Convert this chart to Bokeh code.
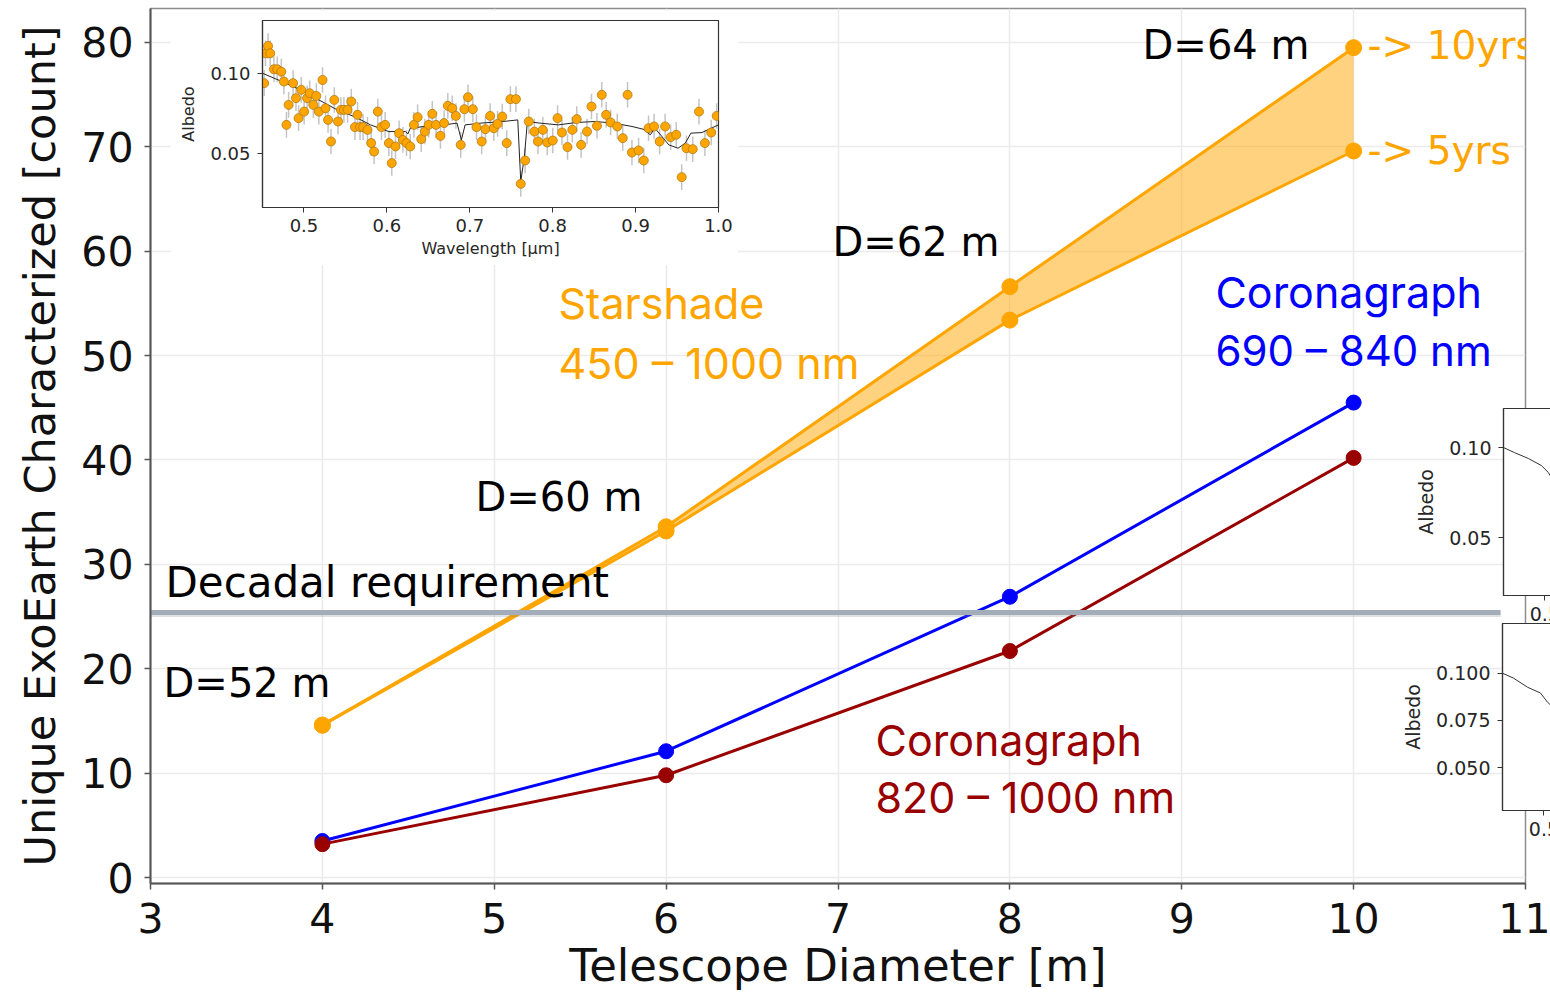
from bokeh.plotting import figure
from bokeh.models import ColumnDataSource, Label, FixedTicker, PrintfTickFormatter, Range1d, GlobalInlineStyleSheet
from bokeh.embed import file_html
from bokeh.resources import INLINE

# ---------------- main chart data ----------------
diameter = [4, 6, 8, 10]
starshade_10yr = [14.6, 33.6, 56.6, 79.5]
starshade_5yr = [14.6, 33.2, 53.4, 69.6]
coronagraph_690_840 = [3.5, 12.1, 26.9, 45.5]
coronagraph_820_1000 = [3.2, 9.8, 21.7, 40.2]
decadal_requirement = 25.4
x_ticks = [3, 4, 5, 6, 7, 8, 9, 10, 11]
y_ticks = [0, 10, 20, 30, 40, 50, 60, 70, 80]

# ---------------- inset spectrum (top-left) ----------------
inset_wl = [0.452, 0.4536, 0.4567, 0.4593, 0.4638, 0.4678, 0.4727, 0.4758, 0.4789, 0.4815,
            0.4869, 0.4904, 0.4935, 0.4967, 0.5002, 0.5038, 0.5069, 0.5113, 0.5149, 0.518,
            0.5224, 0.526, 0.5291, 0.5326, 0.5366, 0.5411, 0.5446, 0.5482, 0.5526, 0.5571,
            0.5615, 0.5646, 0.5677, 0.5713, 0.5766, 0.5811, 0.5846, 0.5891, 0.5935, 0.5979,
            0.6024, 0.6059, 0.6104, 0.6148, 0.6193, 0.6237, 0.6282, 0.6326, 0.6371, 0.6415,
            0.6459, 0.6504, 0.6548, 0.6593, 0.6646, 0.669, 0.6735, 0.6788, 0.6833, 0.6891,
            0.6935, 0.6979, 0.7037, 0.7081, 0.7144, 0.7188, 0.7246, 0.729, 0.7335, 0.7392,
            0.7446, 0.749, 0.7557, 0.7615, 0.7668, 0.7712, 0.7779, 0.7823, 0.7881, 0.7934,
            0.8001, 0.8059, 0.8112, 0.8179, 0.8237, 0.829, 0.8343, 0.8414, 0.8468, 0.8534,
            0.8592, 0.8645, 0.8699, 0.8779, 0.8845, 0.8903, 0.8956, 0.9036, 0.9099, 0.9156,
            0.9223, 0.929, 0.9356, 0.9423, 0.949, 0.9556, 0.9614, 0.9689, 0.9765, 0.9836,
            0.9912, 0.9978]
inset_albedo = [0.0938, 0.1125, 0.1171, 0.1125, 0.1025, 0.1025, 0.101, 0.0948, 0.0677, 0.0802,
                0.0938, 0.0844, 0.0719, 0.0896, 0.076, 0.0844, 0.0875, 0.0802, 0.0858, 0.076,
                0.0958, 0.0781, 0.0708, 0.0573, 0.0833, 0.0698, 0.0771, 0.0771, 0.0771, 0.0823,
                0.0663, 0.074, 0.0663, 0.0663, 0.0646, 0.0563, 0.051, 0.076, 0.0663, 0.0677,
                0.0563, 0.0438, 0.0542, 0.0625, 0.0583, 0.0563, 0.0542, 0.0677, 0.0725, 0.0588,
                0.0635, 0.0677, 0.0746, 0.0677, 0.0608, 0.0688, 0.0796, 0.0781, 0.0733, 0.0552,
                0.0775, 0.085, 0.0775, 0.0663, 0.0573, 0.065, 0.0733, 0.0656, 0.0683, 0.0729,
                0.0563, 0.0838, 0.0838, 0.0308, 0.0454, 0.0698, 0.0635, 0.0573, 0.0646, 0.0567,
                0.0579, 0.0719, 0.0629, 0.0538, 0.0646, 0.0713, 0.0552, 0.0635, 0.0792, 0.0671,
                0.0865, 0.074, 0.0692, 0.0667, 0.0594, 0.0865, 0.0504, 0.0517, 0.0454, 0.0656,
                0.0667, 0.0573, 0.0667, 0.06, 0.0615, 0.035, 0.0531, 0.0525, 0.076, 0.0563,
                0.0629, 0.0733]
inset_err = 0.008
model_wl = [0.45, 0.4735, 0.4958, 0.518, 0.5402, 0.5624, 0.5802, 0.6024, 0.6224, 0.6255,
            0.6282, 0.6513, 0.669, 0.6846, 0.6899, 0.6944, 0.7135, 0.7401, 0.7579, 0.7615,
            0.7659, 0.7695, 0.7846, 0.8068, 0.829, 0.8512, 0.8734, 0.8956, 0.909, 0.9178,
            0.9232, 0.9312, 0.94, 0.9512, 0.96, 0.9667, 0.98, 1.0]
model_albedo = [0.100, 0.0948, 0.0896, 0.0833, 0.0771, 0.0725, 0.0677, 0.0635, 0.0635, 0.0621,
                0.0656, 0.0671, 0.0677, 0.0688, 0.0583, 0.0677, 0.0688, 0.0698, 0.0708, 0.0323,
                0.0479, 0.0698, 0.0688, 0.0677, 0.0692, 0.0698, 0.0688, 0.0667, 0.065, 0.0615,
                0.0656, 0.0608, 0.0552, 0.0531, 0.0563, 0.0625, 0.0629, 0.0677]

# ---------------- right-edge insets (cropped by the page edge) ----------------
right_wl = [0.45, 0.4633, 0.4802, 0.4958, 0.5043, 0.5079]
right_top_albedo = [0.100, 0.0972, 0.0939, 0.0900, 0.0861, 0.0833]
right_bot_albedo = [0.100, 0.0974, 0.0926, 0.0895, 0.0847, 0.0832]

ORANGE = "#FFA500"
BLUE = "#0000FF"
DARKRED = "#990000"
FONT = "DejaVu Sans"

# ================= main figure =================
p = figure(width=1550, height=994, x_range=Range1d(3, 11), y_range=Range1d(-0.57, 83.25),
           output_backend="svg", toolbar_location=None,
           min_border_left=150, min_border_right=25, min_border_top=8, min_border_bottom=110)
p.styles = {"position": "absolute", "left": "0px", "top": "0px"}
p.stylesheets = [GlobalInlineStyleSheet(css="html, body { overflow: hidden; }")]
p.background_fill_color = "white"
p.border_fill_color = "white"
p.outline_line_color = "#8c8c8c"
p.outline_line_width = 1.5

p.xaxis.ticker = FixedTicker(ticks=x_ticks)
p.yaxis.ticker = FixedTicker(ticks=y_ticks)
p.xaxis.axis_label = "Telescope Diameter [m]"
p.yaxis.axis_label = "Unique ExoEarth Characterized [count]"
for ax in (p.xaxis[0], p.yaxis[0]):
    ax.axis_line_color = "#555555"
    ax.axis_line_width = 2
    ax.major_tick_line_color = "#555555"
    ax.major_tick_line_width = 1.5
    ax.major_tick_out = 6
    ax.major_tick_in = 0
    ax.minor_tick_line_color = None
    ax.major_label_text_font = FONT
    ax.major_label_text_font_size = "41px"
    ax.major_label_text_color = "#111111"
    ax.axis_label_text_font = FONT
    ax.axis_label_text_font_style = "normal"
    ax.axis_label_text_color = "#111111"
p.xaxis.axis_label_text_font_size = "45px"
p.yaxis.axis_label_text_font_size = "43px"
p.xaxis.major_label_standoff = 13
p.xaxis.axis_label_standoff = 3
p.yaxis.major_label_standoff = 11
p.yaxis.axis_label_standoff = 13

p.grid.grid_line_color = "#ebebeb"
p.grid.grid_line_width = 1.5

# starshade band
p.varea(x=diameter, y1=starshade_5yr, y2=starshade_10yr, fill_color=ORANGE, fill_alpha=0.5)
for ys in (starshade_10yr, starshade_5yr):
    p.line(diameter, ys, line_color=ORANGE, line_width=3)
    p.scatter(diameter, ys, size=16, fill_color=ORANGE, line_color=ORANGE)
p.line(diameter, coronagraph_690_840, line_color=BLUE, line_width=3)
p.scatter(diameter, coronagraph_690_840, size=15, fill_color=BLUE, line_color=BLUE)
p.line(diameter, coronagraph_820_1000, line_color=DARKRED, line_width=3)
p.scatter(diameter, coronagraph_820_1000, size=15, fill_color=DARKRED, line_color=DARKRED)

# decadal requirement line (with faint shadow)
p.line([2.97, 10.855], [decadal_requirement - 0.2, decadal_requirement - 0.2],
       line_color="#7d8794", line_width=5, line_alpha=0.25)
p.line([2.97, 10.855], [decadal_requirement, decadal_requirement],
       line_color="#A3ADB9", line_width=5)


def add_label(x, y, text, color, font, size):
    p.add_layout(Label(x=x, y=y, text=text, text_color=color, text_font=font,
                       text_font_size=size, text_baseline="alphabetic", text_align="left"))


add_label(8.772, 79.72, "D=64 m", "black", FONT, "40px")
add_label(6.968, 60.87, "D=62 m", "black", FONT, "40px")
add_label(4.891, 36.46, "D=60 m", "black", FONT, "40px")
add_label(3.076, 18.66, "D=52 m", "black", FONT, "40px")
add_label(3.087, 28.23, "Decadal requirement", "black", FONT, "42px")
add_label(10.081, 79.72, "-> 10yrs", ORANGE, FONT, "39px")
add_label(10.081, 69.67, "-> 5yrs", ORANGE, FONT, "39px")
add_label(5.374, 55.03, "Starshade", ORANGE, "Inter", "43px")
add_label(5.374, 49.29, "450 – 1000 nm", ORANGE, "Inter", "43px")
add_label(9.196, 56.08, "Coronagraph", BLUE, "Inter", "43px")
add_label(9.196, 50.53, "690 – 840 nm", BLUE, "Inter", "42px")
add_label(7.218, 13.21, "Coronagraph", DARKRED, "Inter", "43px")
add_label(7.218, 7.76, "820 – 1000 nm", DARKRED, "Inter", "43px")


def style_inset(f, tick_size, label_size):
    f.grid.visible = False
    for ax in (f.xaxis[0], f.yaxis[0]):
        ax.axis_line_color = "#333333"
        ax.axis_line_width = 1.2
        ax.major_tick_line_color = "#333333"
        ax.major_tick_out = 5
        ax.major_tick_in = 0
        ax.minor_tick_line_color = None
        ax.major_label_text_font = FONT
        ax.major_label_text_font_size = tick_size
        ax.major_label_text_color = "#262626"
        ax.axis_label_text_font = FONT
        ax.axis_label_text_font_size = label_size
        ax.axis_label_text_font_style = "normal"
        ax.axis_label_text_color = "#262626"
    f.xaxis.major_label_standoff = 6
    f.yaxis.major_label_standoff = 7
    f.yaxis.axis_label_standoff = 9
    f.xaxis.axis_label_standoff = 4


# ================= top-left inset =================
ins = figure(width=568, height=255, x_range=Range1d(0.45, 1.0), y_range=Range1d(0.016, 0.133),
             output_backend="svg", toolbar_location=None,
             min_border_left=92, min_border_right=20, min_border_top=10, min_border_bottom=58)
ins.styles = {"position": "absolute", "left": "170px", "top": "10px"}
ins.background_fill_color = "white"
ins.border_fill_color = "white"
ins.outline_line_color = "#333333"
ins.outline_line_width = 1.2
style_inset(ins, "18px", "16px")
ins.xaxis.ticker = FixedTicker(ticks=[0.5, 0.6, 0.7, 0.8, 0.9, 1.0])
ins.yaxis.ticker = FixedTicker(ticks=[0.05, 0.10])
ins.xaxis.formatter = PrintfTickFormatter(format="%.1f")
ins.yaxis.formatter = PrintfTickFormatter(format="%.2f")
ins.xaxis.axis_label = "Wavelength [μm]"
ins.yaxis.axis_label = "Albedo"

src = ColumnDataSource(dict(x=inset_wl, y=inset_albedo,
                            lo=[a - inset_err for a in inset_albedo],
                            hi=[a + inset_err for a in inset_albedo]))
ins.segment(x0="x", y0="lo", x1="x", y1="hi", source=src, line_color="#c4c4c4", line_width=1.5)
ins.line(model_wl, model_albedo, line_color="#222222", line_width=1)
ins.scatter("x", "y", source=src, size=9, fill_color=ORANGE, line_color="#b07a10", line_width=0.8)


def right_inset(left, top, border_left, ylo, yhi, yticks, fmt, albedo):
    # full-size inset frame (456 px wide); only its left part lies inside the page
    f = figure(width=border_left + 456 + 20, height=228, x_range=Range1d(0.45, 1.0), y_range=Range1d(ylo, yhi),
               output_backend="svg", toolbar_location=None,
               min_border_left=border_left, min_border_right=20, min_border_top=10, min_border_bottom=31)
    f.styles = {"position": "absolute", "left": f"{left}px", "top": f"{top}px"}
    f.background_fill_color = "white"
    f.border_fill_color = None
    f.outline_line_color = "#333333"
    f.outline_line_width = 1.2
    style_inset(f, "19px", "19px")
    f.xaxis.ticker = FixedTicker(ticks=[0.5])
    f.xaxis.formatter = PrintfTickFormatter(format="%.1f")
    f.yaxis.ticker = FixedTicker(ticks=yticks)
    f.yaxis.formatter = PrintfTickFormatter(format=fmt)
    f.yaxis.axis_label = "Albedo"
    f.line(right_wl, albedo, line_color="#333333", line_width=1)
    return f


rt = right_inset(1412, 398, 90, 0.0178, 0.1217, [0.05, 0.10], "%.2f", right_top_albedo)
rb = right_inset(1398, 613, 104, 0.0274, 0.1263, [0.050, 0.075, 0.100], "%.3f", right_bot_albedo)

open("out.html", "w").write(file_html([p, ins, rt, rb], INLINE))
